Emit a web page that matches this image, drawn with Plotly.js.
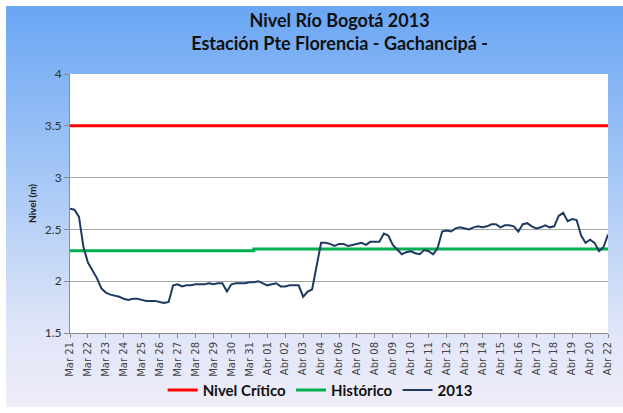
<!DOCTYPE html>
<html>
<head>
<meta charset="utf-8">
<script src="https://cdn.plot.ly/plotly-3.0.1.min.js"></script>
<style>
  body { margin: 0; background: #fff; }
  #fondo {
    position: absolute; left: 6px; top: 6px; width: 617px; height: 401px;
    background: linear-gradient(to bottom, #6aa6f4 0%, #a9c9f6 45%, #dfe5f8 80%, #efedf9 100%);
  }
  #plot { position: absolute; left: 0; top: 0; width: 623px; height: 413px; }
</style>
</head>
<body>
<div id="fondo"></div>
<div id="plot"></div>
<script>
// etiquetas del eje (dias con lectura)
let dias = ['Mar 21','Mar 22','Mar 23','Mar 24','Mar 25','Mar 26','Mar 27','Mar 28','Mar 29','Mar 30','Mar 31',
            'Abr 01','Abr 02','Abr 03','Abr 04','Abr 06','Abr 07','Abr 08','Abr 09','Abr 10','Abr 11','Abr 12',
            'Abr 13','Abr 14','Abr 15','Abr 16','Abr 17','Abr 18','Abr 19','Abr 20','Abr 22'];

// nivel 2013, una lectura cada 6 horas (m)
let nivel2013 = [
  2.70, 2.69, 2.62, 2.33, 2.18, 2.11, 2.03, 1.93, 1.89, 1.87, 1.86, 1.85,
  1.83, 1.82, 1.83, 1.83, 1.82, 1.81, 1.81, 1.81, 1.80, 1.79, 1.80, 1.96,
  1.97, 1.95, 1.96, 1.96, 1.97, 1.97, 1.97, 1.98, 1.97, 1.98, 1.98, 1.90,
  1.97, 1.98, 1.98, 1.98, 1.99, 1.99, 2.00, 1.98, 1.96, 1.97, 1.98, 1.95,
  1.95, 1.96, 1.96, 1.96, 1.85, 1.90, 1.92, 2.15, 2.37, 2.37, 2.36, 2.34,
  2.36, 2.36, 2.34, 2.35, 2.36, 2.37, 2.35, 2.38, 2.38, 2.38, 2.46, 2.44,
  2.35, 2.30, 2.26, 2.28, 2.29, 2.27, 2.26, 2.30, 2.29, 2.26, 2.32, 2.48,
  2.49, 2.48, 2.51, 2.52, 2.51, 2.50, 2.52, 2.53, 2.52, 2.53, 2.55, 2.55,
  2.52, 2.54, 2.54, 2.53, 2.48, 2.55, 2.56, 2.53, 2.51, 2.52, 2.54, 2.52,
  2.53, 2.63, 2.66, 2.58, 2.60, 2.59, 2.44, 2.37, 2.40, 2.37, 2.29, 2.33,
  2.45
];
let horasPaso = 6;

// historico (marzo / abril) y nivel critico
let histPos = [0, 10.25, 30];
let historico = [2.295, 2.31, 2.31];
let critPos = [0, 30];
let critico = [3.5, 3.5];

let pos2013 = nivel2013.map((v, i) => i * horasPaso / 24);
let tickPos = dias.map((d, i) => i);

let trace1 = {
    x: critPos, y: critico, name: 'Nivel Crítico', mode: 'lines',
    line: { color: '#ff0000', width: 3 }
};
let trace2 = {
    x: histPos, y: historico, name: 'Histórico', mode: 'lines',
    line: { color: '#00b050', width: 3, shape: 'hv' }
};
let trace3 = {
    x: pos2013, y: nivel2013, name: '2013', mode: 'lines',
    line: { color: '#1f3a60', width: 2 }
};

let layout = {
    width: 623, height: 413,
    margin: { l: 70, r: 15, t: 74, b: 80 },
    paper_bgcolor: 'rgba(0,0,0,0)',
    plot_bgcolor: '#ffffff',
    title: {
        text: '<b>Nivel Río Bogotá 2013</b><br><b>Estación Pte Florencia - Gachancipá -</b>',
        font: { family: 'Lato, sans-serif', size: 18, color: '#111' },
        x: 0.545, xanchor: 'center', y: 0.935, yanchor: 'top'
    },
    xaxis: {
        range: [0, 30], tickvals: tickPos, ticktext: dias, tickangle: -90,
        tickfont: { family: 'DejaVu Sans, sans-serif', size: 10, color: '#444' },
        showgrid: false, zeroline: false, automargin: false,
        showline: true, linecolor: '#8c8c8c', linewidth: 1,
        ticks: 'outside', ticklen: 4, tickcolor: '#8c8c8c'
    },
    yaxis: {
        range: [1.5, 4], dtick: 0.5, tick0: 1.5, automargin: false,
        tickfont: { family: 'Lato, sans-serif', size: 12, color: '#333' },
        title: { text: '<b>Nivel (m)</b>', font: { family: 'Lato, sans-serif', size: 10, color: '#222' }, standoff: 6 },
        gridcolor: '#a6a6a6', gridwidth: 1, zeroline: false,
        showline: true, linecolor: '#8c8c8c', linewidth: 1,
        ticks: 'outside', ticklen: 5, tickcolor: '#8c8c8c'
    },
    legend: {
        orientation: 'h', x: 0.465, xanchor: 'center',
        yref: 'container', y: 0.055, yanchor: 'middle',
        font: { family: 'Lato, sans-serif', size: 15, color: '#111', weight: 'bold' },
        bgcolor: 'rgba(0,0,0,0)', itemwidth: 30
    },
    showlegend: true
};

Plotly.newPlot('plot', [trace1, trace2, trace3], layout, { displayModeBar: false });
</script>
</body>
</html>
